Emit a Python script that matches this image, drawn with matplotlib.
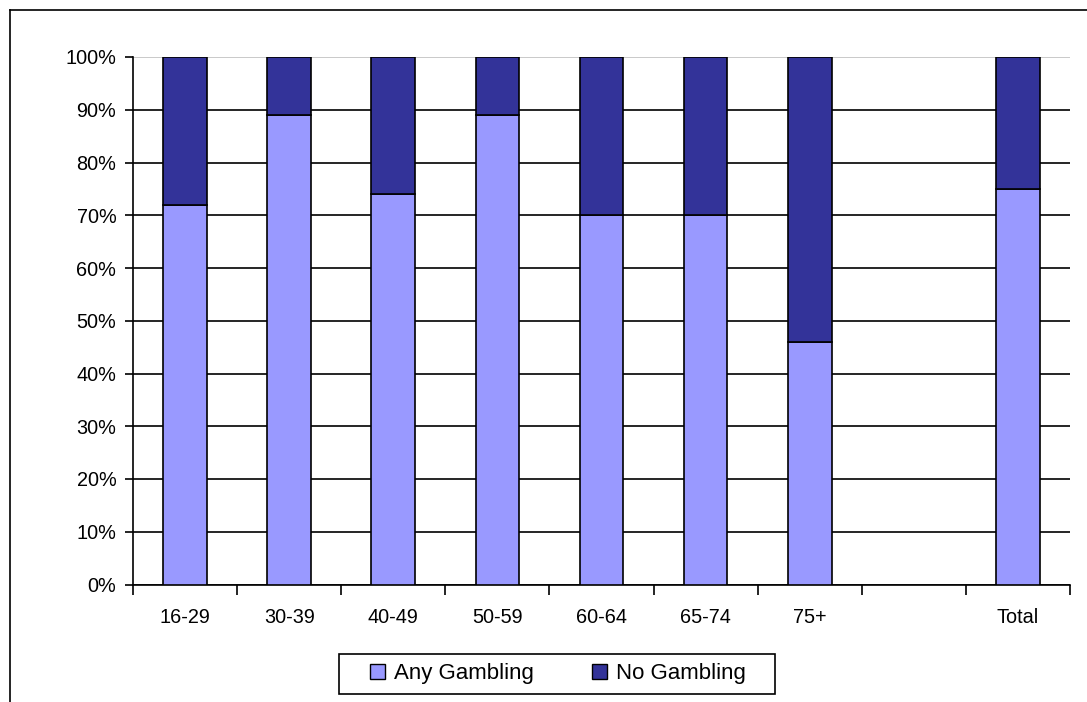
import numpy as np
import matplotlib
matplotlib.use("Agg")
import matplotlib.pyplot as plt
from matplotlib.lines import Line2D
from matplotlib.patches import Patch, Rectangle

plt.rcParams["font.family"] = ["Liberation Sans", "DejaVu Sans"]

# age groups; the empty slot is a gap before the total
groups = ["16-29", "30-39", "40-49", "50-59", "60-64", "65-74", "75+", "", "Total"]
any_gambling = [72, 89, 74, 89, 70, 70, 46, np.nan, 75]
no_gambling = [28, 11, 26, 11, 30, 30, 54, np.nan, 25]

LIGHT, DARK = "#9999ff", "#333399"

W, H = 1087, 702
fig = plt.figure(figsize=(W / 100, H / 100), dpi=100)
ax = fig.add_axes([133 / W, (H - 584.5) / H, (1070 - 133) / W, 527.5 / H])

x = np.arange(len(groups))
anyv = np.array(any_gambling, float)
nov = np.array(no_gambling, float)
ok = ~np.isnan(anyv)
bw = 0.42
ax.bar(x[ok], anyv[ok], bw, color=LIGHT, edgecolor="black", lw=1.2, zorder=3)
ax.bar(x[ok], nov[ok], bw, bottom=anyv[ok], color=DARK, edgecolor="black", lw=1.2, zorder=3)

ax.set_xlim(-0.5, len(groups) - 0.5)
ax.set_ylim(0, 100)
ax.set_yticks(np.arange(0, 101, 10))
ax.set_yticklabels([f"{v}%" for v in range(0, 101, 10)], fontsize=14.3)
ax.set_xticks(x)
ax.set_xticklabels(groups, fontsize=14.3)
ax.set_xticks(np.arange(-0.5, len(groups), 1), minor=True)
ax.tick_params(axis="x", which="major", length=0, pad=17)
ax.tick_params(axis="x", which="minor", length=7, width=1.2, direction="out")
ax.tick_params(axis="y", length=6, width=1.2, direction="out", pad=6)

ax.set_axisbelow(True)
ax.yaxis.grid(True, color="black", lw=1.2)
ax.get_ygridlines()[-1].set_color("#c0c0c0")
for s in ("top", "right"):
    ax.spines[s].set_visible(False)
for s in ("left", "bottom"):
    ax.spines[s].set_linewidth(1.2)

handles = [Patch(facecolor=LIGHT, edgecolor="black", lw=1, label="Any Gambling"),
           Patch(facecolor=DARK, edgecolor="black", lw=1, label="No Gambling")]
fig.legend(handles=handles, ncol=2, loc="center",
           bbox_to_anchor=(558 / W, 1 - 674 / H), fontsize=16,
           frameon=False, handlelength=0.68, handleheight=0.68,
           handletextpad=0.4, columnspacing=2.6)
# legend frame
fig.add_artist(Rectangle((339 / W, 1 - 694 / H), (775 - 339) / W, 40 / H,
                         transform=fig.transFigure, fill=False,
                         edgecolor="black", lw=1.2))

# chart-area border, running off the right and bottom edges
fig.add_artist(Line2D([10 / W, 10 / W], [0, 1 - 9.5 / H], color="black", lw=1.2))
fig.add_artist(Line2D([10 / W, 1], [1 - 9.5 / H, 1 - 9.5 / H], color="black", lw=1.2))

fig.savefig("out.png", dpi=100)
